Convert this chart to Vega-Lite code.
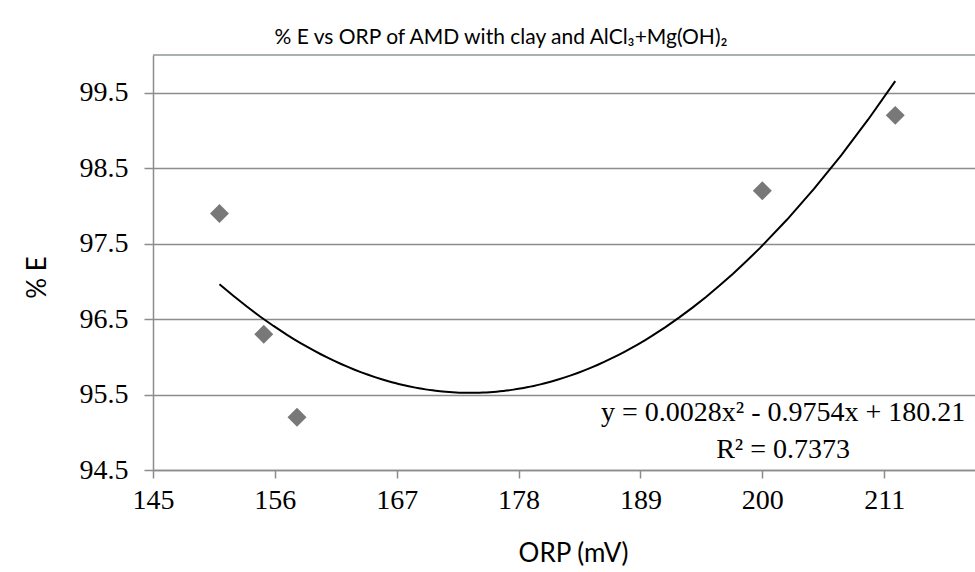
{
  "$schema": "https://vega.github.io/schema/vega-lite/v6.json",
  "width": 822,
  "height": 415,
  "autosize": {"type": "none"},
  "padding": {"left": 153, "top": 55, "right": 0, "bottom": 102},
  "background": "white",
  "config": {"view": {"stroke": null}},
  "title": {
    "text": "% E vs ORP of AMD with clay and AlCl₃+Mg(OH)₂",
    "font": "Lato",
    "fontSize": 21,
    "fontWeight": "normal",
    "color": "#000000",
    "anchor": "middle",
    "dx": -63,
    "offset": 6
  },
  "datasets": {
    "pts": [
      {"orp": 151, "pe": 97.9},
      {"orp": 155, "pe": 96.3},
      {"orp": 158, "pe": 95.2},
      {"orp": 200, "pe": 98.2},
      {"orp": 212, "pe": 99.2}
    ]
  },
  "layer": [
    {
      "data": {"name": "pts"},
      "mark": {"type": "point", "shape": "diamond", "filled": true, "size": 360, "color": "#787878", "opacity": 1},
      "encoding": {
        "x": {
          "field": "orp",
          "type": "quantitative",
          "scale": {"domain": [145, 219.2], "nice": false, "zero": false},
          "axis": {
            "title": "ORP (mV)",
            "values": [145, 156, 167, 178, 189, 200, 211],
            "format": "d",
            "grid": false,
            "labelFlush": false,
            "domainColor": "#8c8c8c",
            "domainWidth": 1.5,
            "tickColor": "#8c8c8c",
            "tickWidth": 1.5,
            "tickSize": 8,
            "labelFont": "Liberation Serif",
            "labelFontSize": 28,
            "labelColor": "#000000",
            "labelPadding": 8,
            "titleFont": "Lato",
            "titleFontSize": 26,
            "titleFontWeight": "normal",
            "titleColor": "#000000",
            "titleX": 420,
            "titleY": 83,
            "titleBaseline": "middle",
            "titleAlign": "center"
          }
        },
        "y": {
          "field": "pe",
          "type": "quantitative",
          "scale": {"domain": [94.5, 100], "nice": false, "zero": false},
          "axis": {
            "title": "% E",
            "values": [94.5, 95.5, 96.5, 97.5, 98.5, 99.5],
            "format": ".1f",
            "grid": true,
            "labelFlush": false,
            "gridColor": "#8c8c8c",
            "gridWidth": 1.5,
            "domainColor": "#8c8c8c",
            "domainWidth": 1.5,
            "tickColor": "#8c8c8c",
            "tickWidth": 1.5,
            "tickSize": 9,
            "labelFont": "Liberation Serif",
            "labelFontSize": 28,
            "labelColor": "#000000",
            "labelPadding": 16,
            "titleFont": "Lato",
            "titleFontSize": 26,
            "titleFontWeight": "normal",
            "titleColor": "#000000",
            "titleAngle": 270,
            "titleX": -116,
            "titleY": 222,
            "titleBaseline": "middle",
            "titleAlign": "center"
          }
        }
      }
    },
    {
      "data": {"name": "pts"},
      "transform": [{"regression": "pe", "on": "orp", "method": "poly", "order": 2}],
      "mark": {"type": "line", "color": "#000000", "strokeWidth": 2},
      "encoding": {
        "x": {"field": "orp", "type": "quantitative"},
        "y": {"field": "pe", "type": "quantitative"}
      }
    },
    {
      "data": {"values": [{}]},
      "mark": {"type": "text", "font": "Liberation Serif", "fontSize": 28, "color": "#000000", "align": "center", "baseline": "middle"},
      "encoding": {
        "x": {"datum": 201.88, "type": "quantitative"},
        "y": {"datum": 95.25, "type": "quantitative"},
        "text": {"value": "y = 0.0028x² - 0.9754x + 180.21"}
      }
    },
    {
      "data": {"values": [{}]},
      "mark": {"type": "text", "font": "Liberation Serif", "fontSize": 28, "color": "#000000", "align": "center", "baseline": "middle"},
      "encoding": {
        "x": {"datum": 201.88, "type": "quantitative"},
        "y": {"datum": 94.76, "type": "quantitative"},
        "text": {"value": "R² = 0.7373"}
      }
    },
    {
      "data": {"values": [{}]},
      "mark": {"type": "rule", "color": "#8a9898", "strokeWidth": 1.5},
      "encoding": {
        "y": {"datum": 100, "type": "quantitative"}
      }
    }
  ]
}
